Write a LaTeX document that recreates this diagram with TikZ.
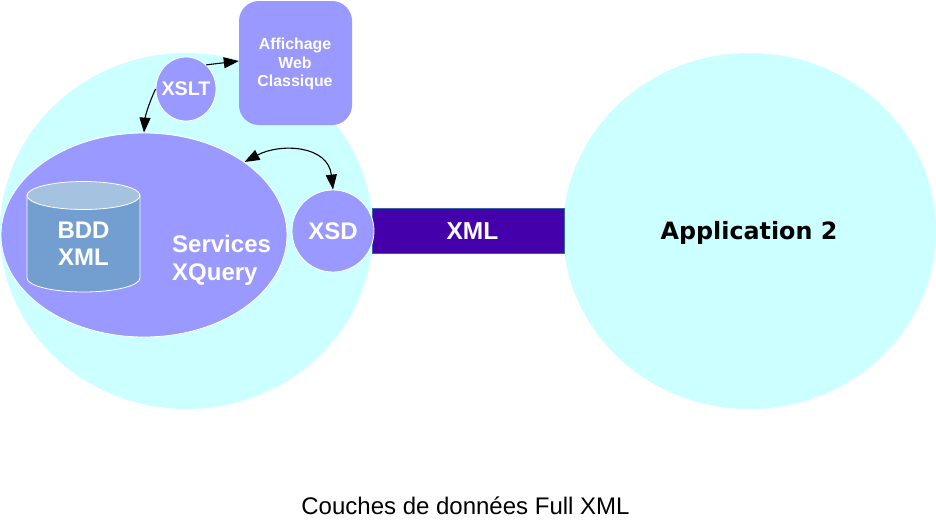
\documentclass[tikz,border=0pt]{standalone}
\usepackage{fontspec}
\setmainfont{Liberation Sans}
\newfontfamily\dvb{DejaVu Sans}
\usetikzlibrary{shapes.geometric,arrows.meta}
\definecolor{cyanbg}{HTML}{CCFFFF}
\definecolor{lav}{HTML}{9999FF}
\definecolor{barc}{HTML}{4400AA}
\definecolor{barl}{HTML}{3465A4}
\definecolor{cylb}{HTML}{729FCF}
\definecolor{cylt}{HTML}{A5C2E0}
\tikzset{
  x=1pt,y=-1pt,
  big/.style={ellipse,fill=cyanbg,inner sep=0pt,minimum width=373pt,minimum height=356pt},
  lavshape/.style={ellipse,fill=lav,draw=white,line width=0.8pt,inner sep=0pt,text=white,font=\bfseries},
  arr/.style={-{Triangle[length=15pt,width=11pt]},line width=1.1pt,black},
  lbl/.style={text=white,font=\bfseries,inner sep=0pt,align=center}
}
\begin{document}
\begin{tikzpicture}
\useasboundingbox (0,0) rectangle (936,531);
\fill[white] (0,0) rectangle (936,531);
\node[big] (app1) at (186.5,231) {};
\node[big] (app2) at (749.5,231) {};
\node[font=\dvb\bfseries\fontsize{23.8}{26}\selectfont,inner sep=0pt] (app2t) at (749,232.5) {Application 2};
\node[rectangle,fill=barc,draw=barl,line width=0.7pt,minimum width=192pt,minimum height=45pt,inner sep=0pt] (bar) at (468,231) {};
\node[lbl,font=\bfseries\fontsize{24.5}{26}\selectfont] (xmlt) at (472.5,231) {XML};
\node[lavshape,minimum width=82pt,minimum height=82pt] (xsd) at (333,231) {};
\node[lavshape,minimum width=286pt,minimum height=204pt] (serv) at (144,235) {};
\node[lbl,font=\bfseries\fontsize{24}{26}\selectfont] (xsdt) at (333,231) {XSD};
\node[lavshape,minimum width=60pt,minimum height=64pt] (xslt) at (186,89) {};
\node[lbl,font=\bfseries\fontsize{19.7}{22}\selectfont] (xsltt) at (186,89) {XSLT};
\node[rectangle,rounded corners=20pt,fill=lav,minimum width=113pt,minimum height=124pt,inner sep=0pt] (aff) at (295.5,63) {};
\node[lbl,font=\bfseries\fontsize{15.9}{18.5}\selectfont] (afft) at (295,64) {Affichage\\Web\\Classique};
% cylinder
\path[fill=cylb,draw=white,line width=0.8pt] (27,195.5) -- (27,278) arc[start angle=180,end angle=0,x radius=56.5,y radius=14] -- (140,195.5) -- cycle;
\path[fill=cylt,draw=white,line width=0.8pt] (83.5,195.5) ellipse[x radius=56.5,y radius=14];
\node[lbl,font=\bfseries\fontsize{24}{27}\selectfont] (bdd) at (83.5,244) {BDD\\XML};
\node[lbl,font=\bfseries\fontsize{24}{28}\selectfont,align=left,anchor=west] (servt) at (172,260) {Services\\XQuery};
\node[font=\fontsize{24}{26}\selectfont,inner sep=0pt] (cap) at (465.5,506) {Couches de données Full XML};
\draw[arr] (xslt.180) .. controls (148,105) and (145,118) .. (serv.north);
\draw[arr] (xslt.50) -- (aff.178);
\draw[arr,{Triangle[length=15pt,width=11pt]}-{Triangle[length=15pt,width=11pt]}] (serv.36) .. controls (280,143) and (328,145) .. (xsd.north);
\end{tikzpicture}
\end{document}
